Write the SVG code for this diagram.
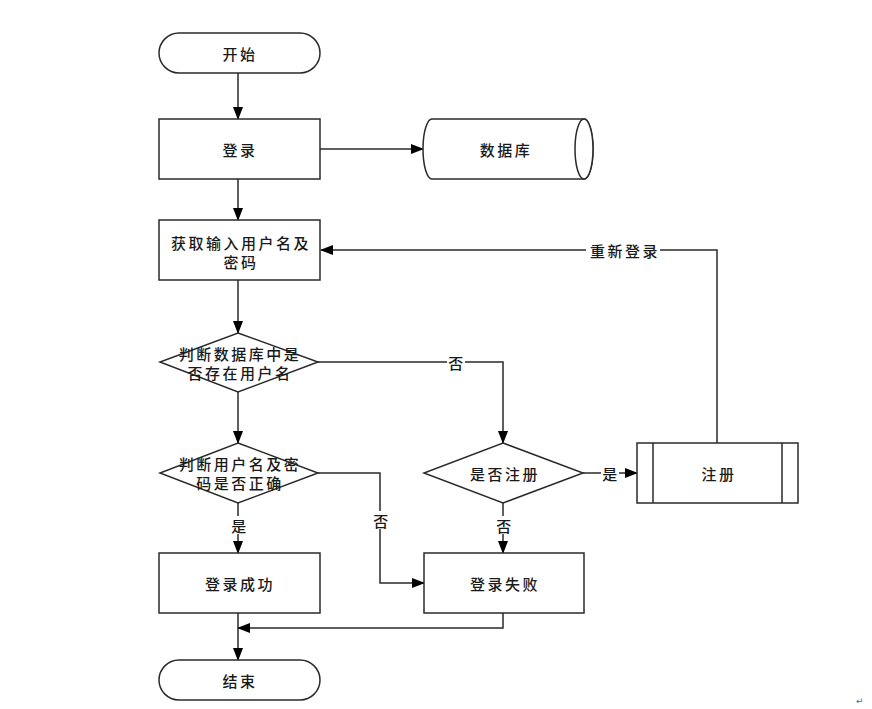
<svg xmlns="http://www.w3.org/2000/svg" width="872" height="709" viewBox="0 0 872 709">
<defs>
<style>
.s{fill:#fff;stroke:#2a2a2a;stroke-width:1.5}
.t{font-family:"Noto Sans CJK SC","Noto Sans CJK JP",sans-serif;font-size:15px;font-weight:500;fill:#1a1a1a;text-anchor:middle;dominant-baseline:central;letter-spacing:2.5px}
.c{fill:none;stroke:#2a2a2a;stroke-width:1.5}
.lb{fill:#fff}
</style>
<marker id="a" markerWidth="13" markerHeight="10" refX="12" refY="5" orient="auto" markerUnits="userSpaceOnUse">
<path d="M0,0 L13,5 L0,10 Z" fill="#000"/>
</marker>
</defs>
<rect width="872" height="709" fill="#fff"/>
<g id="connectors">
<path class="c" d="M238,73 V119" marker-end="url(#a)"/>
<path class="c" d="M320,149 H423" marker-end="url(#a)"/>
<path class="c" d="M238,179 V220" marker-end="url(#a)"/>
<path class="c" d="M238,280 V333" marker-end="url(#a)"/>
<path class="c" d="M238,392 V443" marker-end="url(#a)"/>
<path class="c" d="M318,362 H503 V443" marker-end="url(#a)"/>
<path class="c" d="M583,473 H637" marker-end="url(#a)"/>
<path class="c" d="M717,443 V250 H321" marker-end="url(#a)"/>
<path class="c" d="M238,503 V553" marker-end="url(#a)"/>
<path class="c" d="M318,473 H380 V583 H424" marker-end="url(#a)"/>
<path class="c" d="M503,503 V553" marker-end="url(#a)"/>
<path class="c" d="M503,613 V628 H238" marker-end="url(#a)"/>
<path class="c" d="M238,613 V660" marker-end="url(#a)"/>
<rect class="lb" x="447" y="353" width="18" height="18"/>
<text class="t" x="457" y="362">否</text>
<rect class="lb" x="601" y="464" width="18" height="18"/>
<text class="t" x="611" y="473">是</text>
<rect class="lb" x="586" y="241" width="74" height="18"/>
<text class="t" x="625" y="250">重新登录</text>
<rect class="lb" x="229" y="516" width="18" height="18"/>
<text class="t" x="240" y="525">是</text>
<rect class="lb" x="371" y="511" width="18" height="18"/>
<text class="t" x="382" y="520">否</text>
<rect class="lb" x="494" y="516" width="18" height="18"/>
<text class="t" x="505" y="525">否</text>
</g>
<g id="start">
<rect class="s" x="159" y="33" width="161" height="40" rx="20"/>
<text class="t" x="240" y="53">开始</text>
</g>
<g id="login">
<rect class="s" x="159" y="119" width="161" height="60"/>
<text class="t" x="240" y="149">登录</text>
</g>
<g id="database">
<path class="s" d="M432,119 H584 A9,30 0 0 1 584,179 H432 A9,30 0 0 1 432,119 Z"/>
<ellipse class="s" cx="584" cy="149" rx="9" ry="30"/>
<text class="t" x="506" y="149">数据库</text>
</g>
<g id="input">
<rect class="s" x="159" y="220" width="161" height="60"/>
<text class="t" x="241" y="242">获取输入用户名及</text>
<text class="t" x="241" y="261">密码</text>
</g>
<g id="check-user">
<polygon class="s" points="238,333 318,362 238,392 160,362"/>
<text class="t" x="240" y="353">判断数据库中是</text>
<text class="t" x="240" y="372">否存在用户名</text>
</g>
<g id="check-pass">
<polygon class="s" points="238,443 318,473 238,503 160,473"/>
<text class="t" x="240" y="463">判断用户名及密</text>
<text class="t" x="240" y="482">码是否正确</text>
</g>
<g id="ask-register">
<polygon class="s" points="503,443 583,473 503,503 424,473"/>
<text class="t" x="505" y="473">是否注册</text>
</g>
<g id="register">
<rect class="s" x="637" y="443" width="161" height="60"/>
<line class="c" x1="653" y1="443" x2="653" y2="503"/>
<line class="c" x1="782" y1="443" x2="782" y2="503"/>
<text class="t" x="719" y="473">注册</text>
</g>
<g id="success">
<rect class="s" x="159" y="553" width="161" height="60"/>
<text class="t" x="240" y="583">登录成功</text>
</g>
<g id="fail">
<rect class="s" x="424" y="553" width="160" height="60"/>
<text class="t" x="505" y="583">登录失败</text>
</g>
<g id="end">
<rect class="s" x="159" y="660" width="161" height="40" rx="20"/>
<text class="t" x="240" y="680">结束</text>
</g>
<text x="856" y="704" style="font-family:'DejaVu Sans',sans-serif;font-size:9px;fill:#666">↵</text>
</svg>
